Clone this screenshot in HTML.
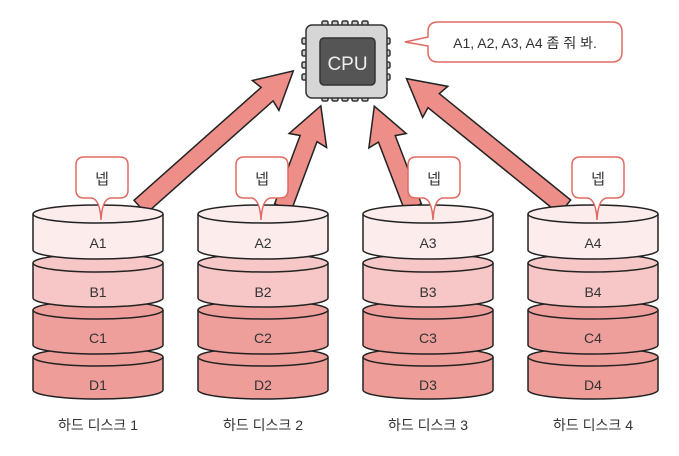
<!DOCTYPE html>
<html><head><meta charset="utf-8"><style>
body{margin:0;background:#fff}
svg{display:block}
text{font-family:"Liberation Sans","Noto Sans CJK KR",sans-serif;fill:#333}
</style></head><body>
<svg width="679" height="456" viewBox="0 0 679 456" xmlns="http://www.w3.org/2000/svg">
<!-- arrows -->
<g fill="#ee8e88" stroke="#222" stroke-width="1.5" stroke-linejoin="miter">
<g transform="translate(140,207) rotate(-41.6)"><polygon points="0,-9 170,-9 168,-20 205,0 168,20 170,9 0,9"/></g>
<g transform="translate(283,207) rotate(-69.5)"><polygon points="0,-9 73,-9 71,-20 108,0 71,20 73,9 0,9"/></g>
<g transform="translate(413,207) rotate(-111)"><polygon points="0,-9 73,-9 71,-20 108,0 71,20 73,9 0,9"/></g>
<g transform="translate(565,207) rotate(-141)"><polygon points="0,-9 169,-9 167,-20 204,0 167,20 169,9 0,9"/></g>
</g>
<!-- CPU -->
<g stroke="#333" stroke-width="1.5">
<g fill="#ccc">
<rect x="322" y="21" width="6" height="6" rx="1.5"/><rect x="332" y="21" width="6" height="6" rx="1.5"/><rect x="342" y="21" width="6" height="6" rx="1.5"/><rect x="352" y="21" width="6" height="6" rx="1.5"/><rect x="362" y="21" width="6" height="6" rx="1.5"/>
<rect x="322" y="95" width="6" height="6" rx="1.5"/><rect x="332" y="95" width="6" height="6" rx="1.5"/><rect x="342" y="95" width="6" height="6" rx="1.5"/><rect x="352" y="95" width="6" height="6" rx="1.5"/><rect x="362" y="95" width="6" height="6" rx="1.5"/>
<rect x="302" y="38" width="6" height="6" rx="1.5"/><rect x="302" y="50" width="6" height="6" rx="1.5"/><rect x="302" y="62" width="6" height="6" rx="1.5"/><rect x="302" y="74" width="6" height="6" rx="1.5"/>
<rect x="384" y="38" width="6" height="6" rx="1.5"/><rect x="384" y="50" width="6" height="6" rx="1.5"/><rect x="384" y="62" width="6" height="6" rx="1.5"/><rect x="384" y="74" width="6" height="6" rx="1.5"/>
</g>
<rect x="306" y="25" width="81" height="73" rx="6" fill="#d6d6d6"/>
<rect x="320" y="38" width="55" height="47" rx="4" fill="#555"/>
</g>
<text x="347.5" y="70" font-size="19" text-anchor="middle" style="fill:#eee">CPU</text>
<!-- speech bubble -->
<path d="M438,22 H612 Q622,22 622,32 V52 Q622,62 612,62 H438 Q428,62 428,52 V46 L405,42 L428,37 V32 Q428,22 438,22 Z" fill="#fff" stroke="#e06a62" stroke-width="1.5"/>
<text x="525" y="48" font-size="14" text-anchor="middle">A1, A2, A3, A4 좀 줘 봐.</text>
<g stroke="#222" stroke-width="1.5">
<g transform="translate(0,0)">
<path d="M33,357 V390 A65,9 0 0 0 163,390 V357" fill="#ee9d99"/><ellipse cx="98" cy="357" rx="65" ry="9" fill="#ee9d99"/>
<path d="M33,310 V345 A65,9 0 0 0 163,345 V310" fill="#ef9f9b"/><ellipse cx="98" cy="310" rx="65" ry="9" fill="#ef9f9b"/>
<path d="M33,263 V298 A65,9 0 0 0 163,298 V263" fill="#f7c6c6"/><ellipse cx="98" cy="263" rx="65" ry="9" fill="#f7c6c6"/>
<path d="M33,214 V250 A65,9 0 0 0 163,250 V214" fill="#fcecec"/><ellipse cx="98" cy="214" rx="65" ry="9" fill="#fcecec"/>
</g>
<g transform="translate(165,0)">
<path d="M33,357 V390 A65,9 0 0 0 163,390 V357" fill="#ee9d99"/><ellipse cx="98" cy="357" rx="65" ry="9" fill="#ee9d99"/>
<path d="M33,310 V345 A65,9 0 0 0 163,345 V310" fill="#ef9f9b"/><ellipse cx="98" cy="310" rx="65" ry="9" fill="#ef9f9b"/>
<path d="M33,263 V298 A65,9 0 0 0 163,298 V263" fill="#f7c6c6"/><ellipse cx="98" cy="263" rx="65" ry="9" fill="#f7c6c6"/>
<path d="M33,214 V250 A65,9 0 0 0 163,250 V214" fill="#fcecec"/><ellipse cx="98" cy="214" rx="65" ry="9" fill="#fcecec"/>
</g>
<g transform="translate(330,0)">
<path d="M33,357 V390 A65,9 0 0 0 163,390 V357" fill="#ee9d99"/><ellipse cx="98" cy="357" rx="65" ry="9" fill="#ee9d99"/>
<path d="M33,310 V345 A65,9 0 0 0 163,345 V310" fill="#ef9f9b"/><ellipse cx="98" cy="310" rx="65" ry="9" fill="#ef9f9b"/>
<path d="M33,263 V298 A65,9 0 0 0 163,298 V263" fill="#f7c6c6"/><ellipse cx="98" cy="263" rx="65" ry="9" fill="#f7c6c6"/>
<path d="M33,214 V250 A65,9 0 0 0 163,250 V214" fill="#fcecec"/><ellipse cx="98" cy="214" rx="65" ry="9" fill="#fcecec"/>
</g>
<g transform="translate(495,0)">
<path d="M33,357 V390 A65,9 0 0 0 163,390 V357" fill="#ee9d99"/><ellipse cx="98" cy="357" rx="65" ry="9" fill="#ee9d99"/>
<path d="M33,310 V345 A65,9 0 0 0 163,345 V310" fill="#ef9f9b"/><ellipse cx="98" cy="310" rx="65" ry="9" fill="#ef9f9b"/>
<path d="M33,263 V298 A65,9 0 0 0 163,298 V263" fill="#f7c6c6"/><ellipse cx="98" cy="263" rx="65" ry="9" fill="#f7c6c6"/>
<path d="M33,214 V250 A65,9 0 0 0 163,250 V214" fill="#fcecec"/><ellipse cx="98" cy="214" rx="65" ry="9" fill="#fcecec"/>
</g>
</g>
<!-- bubbles 넵 -->
<g fill="#fff" stroke="#e06a62" stroke-width="1.5">
<path d="M84,157 H120 Q128,157 128,165 V190 Q128,198 120,198 H110 Q102,200 101,220 Q100,200 92,198 H84 Q76,198 76,190 V165 Q76,157 84,157 Z"/>
<path transform="translate(160,0)" d="M84,157 H120 Q128,157 128,165 V190 Q128,198 120,198 H110 Q102,200 101,220 Q100,200 92,198 H84 Q76,198 76,190 V165 Q76,157 84,157 Z"/>
<path transform="translate(332,0)" d="M84,157 H120 Q128,157 128,165 V190 Q128,198 120,198 H110 Q102,200 101,220 Q100,200 92,198 H84 Q76,198 76,190 V165 Q76,157 84,157 Z"/>
<path transform="translate(496,0)" d="M84,157 H120 Q128,157 128,165 V190 Q128,198 120,198 H110 Q102,200 101,220 Q100,200 92,198 H84 Q76,198 76,190 V165 Q76,157 84,157 Z"/>
</g>
<g font-size="15" text-anchor="middle">
<text x="102" y="184">넵</text><text x="262" y="184">넵</text><text x="434" y="184">넵</text><text x="598" y="184">넵</text>
</g>
<g font-size="14" text-anchor="middle">
<text x="98" y="248">A1</text><text x="98" y="297">B1</text><text x="98" y="343">C1</text><text x="98" y="390">D1</text>
<text x="263" y="248">A2</text><text x="263" y="297">B2</text><text x="263" y="343">C2</text><text x="263" y="390">D2</text>
<text x="428" y="248">A3</text><text x="428" y="297">B3</text><text x="428" y="343">C3</text><text x="428" y="390">D3</text>
<text x="593" y="248">A4</text><text x="593" y="297">B4</text><text x="593" y="343">C4</text><text x="593" y="390">D4</text>
</g>
<g font-size="14" text-anchor="middle">
<text x="98" y="430">하드 디스크 1</text><text x="263" y="430">하드 디스크 2</text><text x="428" y="430">하드 디스크 3</text><text x="593" y="430">하드 디스크 4</text>
</g>
</svg>
</body></html>
